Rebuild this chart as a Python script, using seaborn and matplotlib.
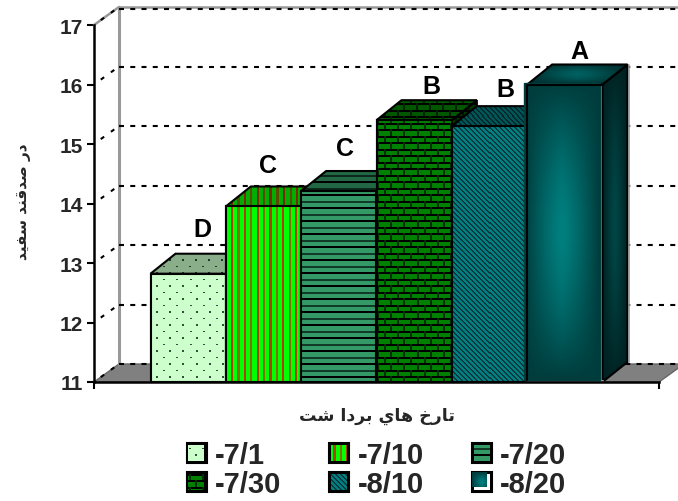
#!/usr/bin/env python3
import numpy as np
import pandas as pd
import seaborn as sns
import matplotlib
matplotlib.use('Agg')
import matplotlib.pyplot as plt
from matplotlib.patches import Polygon

# Chart data
dates = ['-7/1', '-7/10', '-7/20', '-7/30', '-8/10', '-8/20']
values = [12.82, 13.95, 14.21, 15.40, 15.30, 16.0]
letters = ['D', 'C', 'C', 'B', 'B', 'A']
base_colors = ['#CCFFCC', '#00FF00', '#339966', '#008000', '#008080', '#006666']
y_ticks = [11, 12, 13, 14, 15, 16, 17]
x_title = 'تارخ هاي بردا شت'
y_title = 'در صدقند سفيد'

# Layout in pixels
W, H = 678, 502
AX_L, AX_R, AX_T, AX_B = 94, 659, 26, 383
WALL_DX, WALL_DY = 25, 18
BAR_DX, BAR_DY = 25, 20
letter_nudge = [(14, 25), (5, 21), (6, 23), (17, 14), (16, 17), (15, 14)]

# Arabic has to be shaped by hand, matplotlib does no joining
FORMS = {
    'ا': (0xFE8D, 0xFE8E), 'د': (0xFEA9, 0xFEAA), 'ر': (0xFEAD, 0xFEAE),
    'ب': (0xFE8F, 0xFE90, 0xFE91, 0xFE92), 'ت': (0xFE95, 0xFE96, 0xFE97, 0xFE98),
    'خ': (0xFEA5, 0xFEA6, 0xFEA7, 0xFEA8), 'س': (0xFEB1, 0xFEB2, 0xFEB3, 0xFEB4),
    'ش': (0xFEB5, 0xFEB6, 0xFEB7, 0xFEB8), 'ص': (0xFEB9, 0xFEBA, 0xFEBB, 0xFEBC),
    'ف': (0xFED1, 0xFED2, 0xFED3, 0xFED4), 'ق': (0xFED5, 0xFED6, 0xFED7, 0xFED8),
    'ن': (0xFEE5, 0xFEE6, 0xFEE7, 0xFEE8), 'ه': (0xFEE9, 0xFEEA, 0xFEEB, 0xFEEC),
    'ي': (0xFEF1, 0xFEF2, 0xFEF3, 0xFEF4),
}


def shape(text):
    out = []
    for i, ch in enumerate(text):
        if ch not in FORMS:
            out.append(ch)
            continue
        prev = text[i - 1] if i else ' '
        nxt = text[i + 1] if i + 1 < len(text) else ' '
        joins_prev = prev in FORMS and len(FORMS[prev]) == 4
        joins_next = nxt in FORMS and len(FORMS[ch]) == 4
        if joins_prev and joins_next:
            form = 3
        elif joins_prev:
            form = 1
        elif joins_next:
            form = 2
        else:
            form = 0
        out.append(chr(FORMS[ch][form]))
    return ''.join(reversed(out))


def rgb(hex_color):
    return np.array(matplotlib.colors.to_rgb(hex_color))


# Fill patterns, all work on absolute pixel coordinates
def tex_dots(X, Y):
    img = np.ones(X.shape + (3,)) * rgb('#CCFFCC')
    row = np.floor(Y / 6.5).astype(int)
    hit = ((X + 6 * (row % 2)) % 13 < 2) & (Y % 6.5 < 1.5)
    img[hit] = rgb('#30503A')
    return img


def tex_stripes(X, Y):
    img = np.ones(X.shape + (3,)) * rgb('#00FF00')
    phase = X % 12.8
    img[phase < 2.2] = rgb('#B04000')
    img[(phase >= 6.4) & (phase < 8.6)] = rgb('#807000')
    return img


def tex_lines(X, Y):
    img = np.ones(X.shape + (3,)) * rgb('#339966')
    phase = Y % 13
    img[phase < 2] = rgb('#000000')
    img[(phase >= 6.5) & (phase < 8.5)] = rgb('#123A28')
    return img


def tex_bricks(X, Y):
    img = np.ones(X.shape + (3,)) * rgb('#008000')
    row = np.floor(Y / 6.5).astype(int)
    img[Y % 6.5 < 2] = rgb('#000000')
    img[(X + 6.5 * (row % 2)) % 13 < 2] = rgb('#003000')
    return img


def tex_diagonal(X, Y):
    img = np.ones(X.shape + (3,)) * rgb('#008080')
    img[(X - Y) % 5 < 2] = rgb('#0A3A40')
    return img


def tex_gradient(X, Y):
    u = (X - X.min()) / max(X.max() - X.min(), 1)
    v = (Y - Y.min()) / max(Y.max() - Y.min(), 1)
    t = (1 - np.abs(2 * u - 1) ** 1.3) * (1 - np.abs(2 * v - 1) ** 1.6)
    return (rgb('#003C3C')[None, None, :] +
            t[..., None] * (rgb('#008080') - rgb('#003C3C'))[None, None, :])


textures = [tex_dots, tex_stripes, tex_lines, tex_bricks, tex_diagonal, tex_gradient]

df = pd.DataFrame({'group': [''] * len(dates), 'date': dates, 'value': values})

sns.set_theme(style='white')
plt.rcParams['font.family'] = ['Liberation Sans', 'DejaVu Sans']

fig = plt.figure(figsize=(W / 100, H / 100), dpi=100)
ax = fig.add_axes([AX_L / W, 1 - AX_B / H, (AX_R - AX_L) / W, (AX_B - AX_T) / H])

sns.barplot(data=df, x='group', y='value', hue='date', hue_order=dates,
            palette=base_colors, saturation=1, width=0.8, gap=0,
            edgecolor='black', linewidth=1.5, errorbar=None, ax=ax)

ax.set_autoscale_on(False)
ax.set_xlim(-0.5, 0.5)
ax.set_ylim(y_ticks[0], y_ticks[-1])
ax.set_xticks([-0.5, 0.5])
ax.set_xticklabels(['', ''])
ax.set_yticks(y_ticks)
ax.set_yticklabels([str(t) for t in y_ticks], fontsize=15, fontweight='bold')
ax.tick_params(axis='both', direction='out', length=5, width=1.5, color='black',
               left=True, bottom=True, pad=3)
ax.set_xlabel('')
ax.set_ylabel('')
for name, spine in ax.spines.items():
    spine.set_visible(name in ('left', 'bottom'))
    spine.set_color('black')
    spine.set_linewidth(1.8)
    spine.set_zorder(200)
ax.patch.set_alpha(0)

# pixel sizes expressed in data units
ux = 1.0 / (AX_R - AX_L)
uy = (y_ticks[-1] - y_ticks[0]) / (AX_B - AX_T)
wx, wy = WALL_DX * ux, WALL_DY * uy
bx, by = BAR_DX * ux, BAR_DY * uy
x0, x1 = ax.get_xlim()
y0, y1 = ax.get_ylim()

# Floor and walls
ax.add_patch(Polygon([(x0, y0), (x0 + wx, y0 + wy), (x1 + wx, y0 + wy), (x1, y0)],
                     facecolor='#808080', edgecolor='#666666', lw=1, zorder=1, clip_on=False))
ax.plot([x0 + wx, x0 + wx], [y0 + wy, y1 + wy], color='#999999', lw=2.2, zorder=2, clip_on=False)
ax.plot([x0, x0 + wx], [y1, y1 + wy], color='#999999', lw=1.8, zorder=2, clip_on=False)
ax.plot([x0 + wx, x1 + wx], [y1 + wy, y1 + wy], color='#999999', lw=1.8, zorder=2, clip_on=False)

dash = (0, (2.4, 3.0))
for t in y_ticks:
    off = 1.5 * uy if t == y_ticks[-1] else 0
    ax.plot([x0 + wx, x1 + wx], [t + wy - off, t + wy - off], color='black', lw=1.5,
            ls=dash, zorder=3, clip_on=False)
    ax.plot([x0, x0 + wx], [t, t + wy], color='black', lw=1.5, ls=(2, (2, 4)), zorder=3,
            clip_on=False)

fig.canvas.draw()
to_px = ax.transData.transform
to_data = ax.transData.inverted().transform


def paint(verts, tex, shade, z, edge='black', lw=1.5):
    verts = np.array(verts)
    pts = to_px(verts)
    lo, hi = np.floor(pts.min(axis=0)).astype(int), np.ceil(pts.max(axis=0)).astype(int)
    xs = np.arange(lo[0], hi[0])
    ys = np.arange(H - hi[1], H - lo[1])
    X, Y = np.meshgrid(xs, ys)
    img = np.clip(tex(X, Y) * shade, 0, 1)
    (l, b), (r, t) = to_data([lo, hi])
    clip = Polygon(verts, transform=ax.transData)
    im = ax.imshow(img, extent=(l, r, b, t), aspect='auto', interpolation='nearest',
                   zorder=z, origin='upper')
    im.set_clip_path(clip)
    ax.add_patch(Polygon(verts, facecolor='none', edgecolor=edge, lw=lw, zorder=z + 0.2,
                         joinstyle='miter'))


# Bars: the library's rectangles carry the geometry, the 3D faces come from them
bars = [c[0] for c in ax.containers]
for i, bar in enumerate(bars):
    l, r = bar.get_x(), bar.get_x() + bar.get_width()
    top = bar.get_height()
    z = 10 + i * 5
    bar.set_zorder(z)
    tex = textures[i]
    side = [(r, y0), (r + bx, y0 + by), (r + bx, top + by), (r, top)]
    cap = [(l, top), (l + bx, top + by), (r + bx, top + by), (r, top)]
    front = [(l, y0), (l, top), (r, top), (r, y0)]
    if i == len(bars) - 1:
        bar.set_facecolor('white')
        paint(side, tex, 0.55, z + 0.3)
        ax.plot([r + bx + 1 * ux] * 2, [y0 + by, top + by], color='#999999', lw=1.2,
                zorder=z + 0.6)
        paint(cap, tex, 0.75, z + 0.7)
        sx, sy = 3 * ux, 2 * uy
        ax.plot([l, r], [y0 + 0.8 * uy] * 2, color='#999999', lw=1.5, zorder=z + 0.8)
        paint([(l - sx, y0 + sy), (l - sx, top + sy), (r - sx, top + sy), (r - sx, y0 + sy)],
              tex, 1.0, z + 1, edge='#004040', lw=1)
        ax.plot([l, l, r], [y0 + sy, top, top], color='black', lw=1.5, zorder=z + 1.5)
    else:
        paint(side, tex, 0.45, z + 0.3)
        paint(cap, tex, 0.68, z + 0.7)
        paint(front, tex, 1.0, z + 1)

    cx = l + bar.get_width() / 2
    dx_px, dy_px = letter_nudge[i]
    ax.text(cx + dx_px * ux, top + by + dy_px * uy, letters[i], ha='center', va='center',
            fontsize=18, fontweight='bold', color='black', zorder=150)

# Titles
fig.text(377 / W, 1 - 416 / H, shape(x_title), ha='center', va='center', fontsize=12.5,
         fontweight='bold', family=['DejaVu Sans'])
fig.text(24 / W, 1 - 202 / H, shape(y_title), ha='center', va='center', rotation=90,
         fontsize=11, fontweight='bold', family=['DejaVu Sans'])

# Legend, filled row by row
handles, labels = ax.get_legend_handles_labels()
order = [0, 3, 1, 4, 2, 5]
leg = ax.legend([handles[k] for k in order], [labels[k] for k in order], ncol=3,
                loc='center', bbox_to_anchor=(376.5 / W, 1 - 470.5 / H),
                bbox_transform=fig.transFigure, frameon=False,
                prop={'size': 21, 'weight': 'bold', 'family': 'Liberation Sans'},
                handlelength=0.69, handleheight=0.69, handletextpad=0.28,
                columnspacing=1.65, labelspacing=0.04, borderpad=0)
fig.canvas.draw()
for k, handle in zip(order, leg.legend_handles):
    bb = handle.get_window_extent()
    size = 20
    xo, yo = int(round(bb.x0)), int(round(bb.y0))
    X, Y = np.meshgrid(np.arange(xo, xo + size), np.arange(H - yo - size, H - yo))
    img = textures[k](X, Y)
    if k == len(dates) - 1:
        box = np.ones((size, size, 3))
        box[:2] = box[-2:] = box[:, :2] = box[:, -2:] = 0
        box[:15, :15] = img[:15, :15]
        img = box
    else:
        img[:2] = img[-2:] = img[:, :2] = img[:, -2:] = 0
    fig.figimage(img, xo, yo, origin='upper', zorder=5)

fig.savefig('out.png', dpi=100, facecolor='white')
